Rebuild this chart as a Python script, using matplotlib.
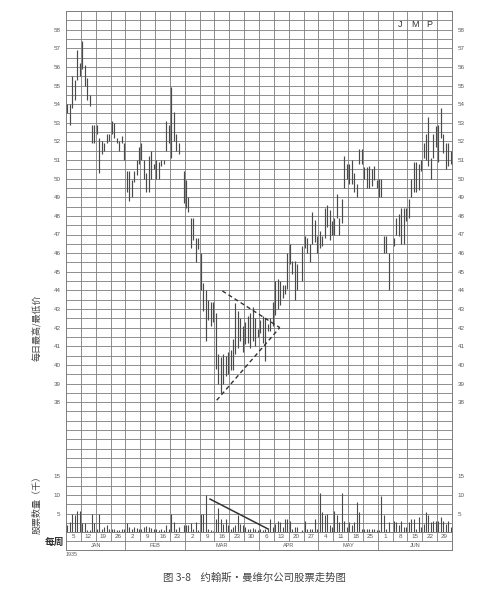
import numpy as np
import matplotlib
matplotlib.use('Agg')
import matplotlib.pyplot as plt

plt.rcParams['font.family'] = ['Liberation Sans', 'Noto Sans CJK SC']
CJK = ['Noto Sans CJK SC', 'DejaVu Sans']

nan = np.nan

# week-ending dates (Saturday) and months, 1935
week_days = [5, 12, 19, 26, 2, 9, 16, 23, 2, 9, 16, 23, 30,
             6, 13, 20, 27, 4, 11, 18, 25, 1, 8, 15, 22, 29]
months = ['JAN', 'FEB', 'MAR', 'APR', 'MAY', 'JUN']
month_weeks = [4, 4, 5, 4, 4, 5]

# daily high / low, six trading days per week
high = [54.0, 54.0, 55.5, 55.3, 56.9, 56.2,
        57.4, 56.1, 55.4, 54.5, 52.9, 52.9,
        52.9, 52.2, 52.0, 51.9, 52.4, 52.4,
        53.1, 53.0, 52.2, 52.0, 52.3, 51.9,
        50.4, 50.4, 49.9, 50.4, 51.0, 51.7,
        51.9, 51.0, 50.3, 51.2, 51.5, 50.8,
        51.0, 50.9, 51.0, 51.0, 53.1, 52.9,
        54.9, 53.6, 52.4, 51.9, nan, 50.4,
        49.9, 49.0, 47.9, 47.9, 46.8, 46.8,
        46.0, 44.4, 44.0, 43.5, 43.4, 43.4,
        42.8, 40.6, 40.4, 40.6, 40.5, 40.7,
        40.8, 41.4, 43.3, 42.9, 42.5, 42.1,
        42.3, 42.6, 42.8, 43.1, 42.5, 41.9,
        42.4, 42.6, 42.5, 42.2, 42.5, 43.4,
        44.5, 44.6, 44.5, 44.3, 44.3, 46.0,
        46.5, 45.6, 45.6, 45.4, nan, 46.4,
        46.9, 46.8, 46.5, 48.2, 47.8, 46.9,
        47.2, 46.9, 48.4, 48.6, 48.3, 47.7,
        47.9, 49.2, 47.9, 48.9, 51.2, 50.8,
        50.8, 51.0, 50.3, 49.7, 51.6, 51.6,
        50.6, 50.6, 50.7, 50.5, 50.7, 49.9,
        50.0, 50.0, 46.9, 46.9, 46.0, nan,
        46.8, 47.9, 48.1, 48.4, 48.4, 48.4,
        48.9, 50.0, 50.9, 50.9, 50.8, 51.0,
        51.9, 52.4, 53.3, 51.1, 52.4, 52.8,
        52.9, 53.8, 52.4, 51.9, 51.9, 51.5]
low = [53.5, 52.9, 53.8, 54.2, 55.3, 55.5,
       55.9, 55.0, 54.2, 53.9, 51.9, 51.9,
       52.4, 50.3, 51.3, 51.5, 51.9, 52.0,
       52.4, 52.2, 51.9, 51.5, 51.9, 51.0,
       49.3, 48.8, 49.0, 49.8, 50.2, 50.8,
       51.0, 50.0, 49.3, 49.3, 50.0, 50.5,
       50.0, 50.0, 50.7, 50.8, 51.5, 51.9,
       51.1, 52.0, 51.5, 51.3, nan, 48.7,
       48.4, 48.2, 46.3, 46.7, 45.5, 46.2,
       44.0, 42.9, 41.3, 42.4, 42.1, 42.3,
       39.8, 39.0, 38.5, 39.0, 39.4, 39.5,
       39.7, 39.7, 40.6, 40.9, 41.3, 40.7,
       41.1, 41.2, 40.9, 41.3, 41.0, 41.5,
       41.7, 41.2, 40.2, 41.8, 41.8, 42.1,
       42.7, 43.0, 43.2, 43.6, 43.8, 44.1,
       45.4, 44.9, 43.5, 44.0, nan, 44.5,
       46.3, 46.0, 45.5, 46.5, 46.6, 46.0,
       46.3, 46.4, 46.8, 47.4, 46.7, 47.0,
       47.0, 47.9, 47.0, 47.6, 49.5, 50.0,
       49.7, 49.7, 49.3, 49.0, 50.8, 50.8,
       50.0, 49.5, 49.5, 49.6, 49.9, 49.5,
       49.0, 49.0, 46.0, 46.0, 44.0, nan,
       46.4, 47.0, 46.9, 46.5, 46.5, 47.7,
       47.9, 49.0, 49.3, 49.3, 49.4, 50.4,
       51.1, 51.0, 50.7, 50.0, 51.1, 51.7,
       50.9, 52.2, 51.4, 50.5, 50.7, 50.8]
# daily volume, thousands of shares
volume = [1.8, 2.7, 5.0, 4.5, 5.6, 5.6,
          2.3, 2.3, 0.5, 0.5, 5.0, 2.3,
          0.9, 5.0, 0.9, 1.4, 1.8, 0.9,
          0.9, 0.7, 0.5, 0.5, 0.7, 0.9,
          2.3, 1.4, 0.9, 1.4, 1.1, 0.9,
          0.9, 1.4, 1.6, 1.4, 1.1, 0.7,
          0.7, 0.5, 0.7, 0.5, 1.8, 0.7,
          5.0, 2.7, 0.9, 1.4, nan, 1.8,
          1.8, 1.8, 2.3, 0.9, 2.7, 0.5,
          5.0, 5.0, 10.0, 0.9, 0.5, 0.4,
          3.6, 6.5, 3.4, 2.2, 3.6, 1.8,
          0.9, 1.4, 1.8, 4.5, 2.2, 1.8,
          1.3, 0.9, 0.7, 1.1, 0.7, 0.5,
          0.7, 0.5, 0.9, 0.7, 3.6, 1.3,
          2.2, 3.1, 2.7, 1.3, 3.6, 3.6,
          3.1, 0.9, 1.3, 1.3, nan, 0.5,
          3.1, 0.9, 0.9, 0.9, 3.6, 0.9,
          10.5, 5.4, 4.5, 4.9, 1.8, 1.3,
          5.8, 4.5, 2.7, 10.5, 3.1, 1.3,
          2.7, 1.8, 2.7, 8.0, 5.4, 0.9,
          0.9, 0.7, 0.9, 0.9, 0.7, 0.5,
          0.5, 9.8, 4.5, 0.9, 2.7, nan,
          3.1, 2.7, 1.8, 3.1, 1.3, 1.3,
          2.7, 3.6, 3.6, 0.9, 4.0, 1.3,
          2.2, 5.4, 4.5, 2.7, 3.1, 3.1,
          3.1, 4.0, 3.1, 2.2, 3.1, 1.3]

# hand-drawn pattern lines (x in trading-day units)
tri_upper_x, tri_upper_y = [63.2, 86.4], [43.97, 42.0]
tri_lower_x, tri_lower_y = [60.9, 86.4], [38.1, 42.0]
vol_line_x, vol_line_y = [58.2, 81.7], [8.9, 0.8]

DAYS = 6
n_weeks = len(week_days)
n_slots = n_weeks * DAYS
x = np.arange(n_slots) + 0.5
high = np.array(high)
low = np.array(low)
volume = np.array(volume)

GRID = '#7c7c7c'
INK = '#4a4a4a'
TXT = '#5a5a5a'

W, H = 490, 594
fig = plt.figure(figsize=(W / 100, H / 100), dpi=100)


def fy(px):
    return 1 - px / H


left, width = 66 / W, 386 / W
ax_p = fig.add_axes([left, fy(458), width, fy(11) - fy(458)])
ax_v = fig.add_axes([left, fy(532), width, fy(458) - fy(532)])
ax_d = fig.add_axes([left, fy(550), width, fy(532) - fy(550)])

for ax in (ax_p, ax_v, ax_d):
    ax.set_xlim(0, n_slots)
    ax.set_xticks([])
    for s in ax.spines.values():
        s.set_color(GRID)
        s.set_linewidth(0.7)

# price panel
ax_p.set_ylim(35, 59)
for yv in np.arange(35.5, 59, 0.5):
    ax_p.axhline(yv, color=GRID, lw=0.6, zorder=1)
for k in range(1, n_weeks):
    ax_p.axvline(k * DAYS, color=GRID, lw=0.6, zorder=1)
ax_p.spines['bottom'].set_visible(False)
ax_p.set_yticks(range(38, 59))
ax_p.tick_params(axis='y', length=0, labelsize=4.5, labelcolor=TXT,
                 labelleft=True, labelright=True, pad=4)
ok = ~np.isnan(high)
ax_p.vlines(x[ok], low[ok], high[ok], color=INK, lw=0.85, zorder=3)
ax_p.plot(tri_upper_x, tri_upper_y, color='#333333', lw=1.0,
          dashes=(3, 2.2), zorder=4)
ax_p.plot(tri_lower_x, tri_lower_y, color='#333333', lw=1.0,
          dashes=(3, 2.2), zorder=4)
for i, letter in enumerate('JMP'):
    ax_p.text((22 + i + 0.5) * DAYS, 58.25, letter, ha='center', va='center',
              fontsize=6.5, color='#333333')

# volume panel
ax_v.set_ylim(0, 20)
for yv in np.arange(2.5, 20.1, 2.5):
    ax_v.axhline(yv, color=GRID, lw=0.6, zorder=1)
for k in range(1, n_weeks):
    ax_v.axvline(k * DAYS, color=GRID, lw=0.6, zorder=1)
ax_v.spines['top'].set_visible(False)
ax_v.set_yticks([5, 10, 15])
ax_v.tick_params(axis='y', length=0, labelsize=4.5, labelcolor=TXT,
                 labelleft=True, labelright=True, pad=4)
okv = ~np.isnan(volume)
ax_v.vlines(x[okv], 0, volume[okv], color=INK, lw=0.8, zorder=3)
ax_v.plot(vol_line_x, vol_line_y, color='#333333', lw=1.1, zorder=4)

# date rows
ax_d.set_ylim(0, 2)
ax_d.set_yticks([])
ax_d.axhline(1, color=GRID, lw=0.6)
for k in range(1, n_weeks):
    ax_d.plot([k * DAYS, k * DAYS], [1, 2], color=GRID, lw=0.6)
for k, d in enumerate(week_days):
    ax_d.text((k + 0.5) * DAYS, 1.5, str(d), ha='center', va='center',
              fontsize=4.5, color=TXT)
start = 0
for m, nw in zip(months, month_weeks):
    end = start + nw
    if start > 0:
        ax_d.plot([start * DAYS, start * DAYS], [0, 1], color=GRID, lw=0.6)
    ax_d.text((start + end) / 2 * DAYS, 0.5, m, ha='center', va='center',
              fontsize=4, color=TXT)
    start = end

fig.text(66 / W, fy(555), '1935', fontsize=3.8, color=TXT, ha='left', va='center')

fig.text(37 / W, fy(328), '每日最高/最低价', rotation=90, ha='center', va='center',
         fontsize=6.5, color='#444444', family=CJK)
fig.text(37 / W, fy(503), '股票数量（千）', rotation=90, ha='center', va='center',
         fontsize=6.5, color='#444444', family=CJK)
fig.text(54 / W, fy(542), '每周', ha='center', va='center',
         fontsize=7, color='#333333', family=CJK, fontweight='bold')

fig.text(163 / W, fy(578), '图 3-8    约翰斯·曼维尔公司股票走势图', ha='left',
         va='center', fontsize=7.5, color='#444444', family=CJK)

fig.savefig('out.png', dpi=100)
